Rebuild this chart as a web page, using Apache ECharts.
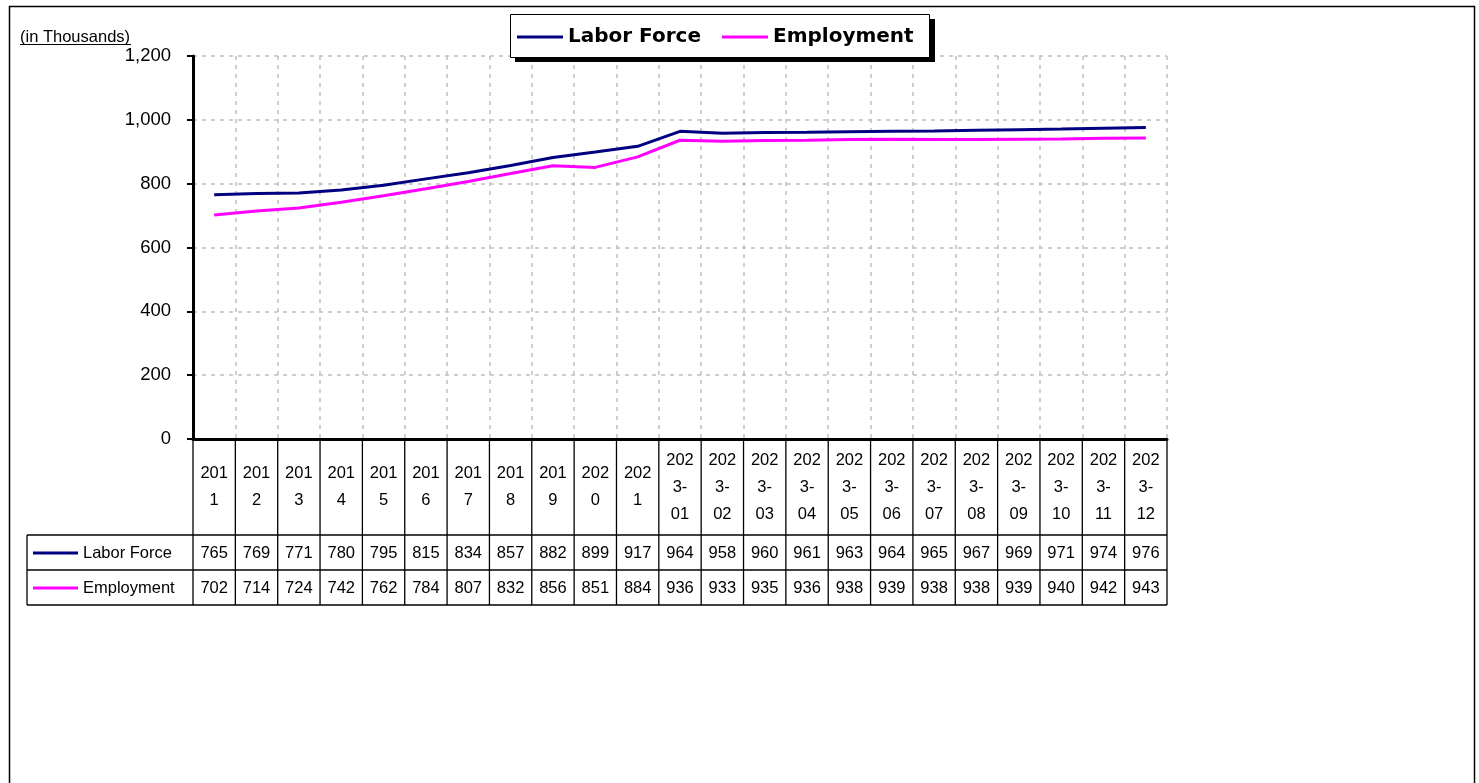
<!DOCTYPE html>
<html>
<head>
<meta charset="utf-8">
<script src="https://cdn.jsdelivr.net/npm/echarts@6/dist/echarts.min.js"></script>
<style>
  html, body { margin: 0; padding: 0; background: #fff; }
  #main { width: 1479px; height: 783px; }
</style>
</head>
<body>
<div id="main"></div>
<script>
var categories = ['2011', '2012', '2013', '2014', '2015', '2016', '2017', '2018', '2019', '2020', '2021',
  '2023-01', '2023-02', '2023-03', '2023-04', '2023-05', '2023-06', '2023-07', '2023-08', '2023-09',
  '2023-10', '2023-11', '2023-12'];
var laborForce = [765, 769, 771, 780, 795, 815, 834, 857, 882, 899, 917,
  964, 958, 960, 961, 963, 964, 965, 967, 969, 971, 974, 976];
var employment = [702, 714, 724, 742, 762, 784, 807, 832, 856, 851, 884,
  936, 933, 935, 936, 938, 939, 938, 938, 939, 940, 942, 943];
var seriesNames = ['Labor Force', 'Employment'];
var seriesColors = ['#000080', '#FF00FF'];
var yMin = 0, yMax = 1200, yStep = 200;

var FONT = '"Liberation Sans", Arial, sans-serif';

var chartDom = document.getElementById('main');
var myChart = echarts.init(chartDom);

var option = {
  backgroundColor: '#fff',
  animation: false,
  grid: { left: 193, right: 312, top: 56, bottom: 344, containLabel: false },
  legend: {
    left: 517, top: 27,
    padding: 0,
    itemGap: 21,
    itemWidth: 46, itemHeight: 3,
    icon: 'rect',
    z: 6,
    textStyle: { fontFamily: '"DejaVu Sans", sans-serif', fontWeight: 'bold', fontSize: 20, color: '#000' },
    data: seriesNames
  },
  xAxis: {
    type: 'category',
    data: categories,
    boundaryGap: true,
    axisLine: { lineStyle: { color: '#000', width: 3 } },
    axisTick: { show: false },
    axisLabel: { show: false },
    splitLine: { show: true, interval: 0, lineStyle: { color: '#c0c0c0', type: [4, 5], width: 1.5 } }
  },
  yAxis: {
    type: 'value',
    min: yMin, max: yMax, interval: yStep,
    axisLine: { show: true, lineStyle: { color: '#000', width: 3 } },
    axisTick: { show: true, length: 6, lineStyle: { color: '#000', width: 2 } },
    axisLabel: {
      margin: 22, color: '#000', fontFamily: FONT, fontSize: 18.5,
      formatter: function (v) { return v.toLocaleString('en-US'); }
    },
    splitLine: { show: true, lineStyle: { color: '#c0c0c0', type: [4, 5], width: 1.5 } }
  },
  series: [
    { name: seriesNames[0], type: 'line', data: laborForce, symbol: 'none',
      itemStyle: { color: seriesColors[0] }, lineStyle: { color: seriesColors[0], width: 3 } },
    { name: seriesNames[1], type: 'line', data: employment, symbol: 'none',
      itemStyle: { color: seriesColors[1] }, lineStyle: { color: seriesColors[1], width: 3 } }
  ]
};
myChart.setOption(option);

// data table under the plot, columns follow the category axis
function wrapLabel(s) {
  var head = s.slice(0, 3), rest = s.slice(3);
  var k = rest.indexOf('-');
  if (k >= 0) return head + '\n' + rest.slice(0, k + 1) + '\n' + rest.slice(k + 1);
  return head + '\n' + rest;
}

var c0 = myChart.convertToPixel({ xAxisIndex: 0 }, 0);
var c1 = myChart.convertToPixel({ xAxisIndex: 0 }, 1);
var step = c1 - c0;
var axisY = myChart.convertToPixel({ yAxisIndex: 0 }, yMin);
var headBottom = axisY + 96, row1Bottom = headBottom + 35, row2Bottom = row1Bottom + 35;
var tableLeft = 27;
var lineStyle = { stroke: '#000', lineWidth: 1.3 };
var els = [];

function hline(x1, x2, y) {
  els.push({ type: 'line', shape: { x1: x1, y1: y, x2: x2, y2: y }, style: lineStyle, silent: true });
}
function vline(x, y1, y2) {
  els.push({ type: 'line', shape: { x1: x, y1: y1, x2: x, y2: y2 }, style: lineStyle, silent: true });
}
function text(str, x, y, size, align) {
  els.push({ type: 'text', x: x, y: y, silent: true,
    style: { text: str, font: size + 'px ' + FONT, fill: '#000', lineHeight: 27,
      align: align || 'center', verticalAlign: 'middle',
      textAlign: align || 'center', textVerticalAlign: 'middle' } });
}

var rightEdge = c0 - step / 2 + step * categories.length;
hline(tableLeft, rightEdge, headBottom);
hline(tableLeft, rightEdge, row1Bottom);
hline(tableLeft, rightEdge, row2Bottom);
vline(tableLeft, headBottom, row2Bottom);
for (var b = 0; b <= categories.length; b++) {
  vline(c0 - step / 2 + step * b, axisY, row2Bottom);
}
var rows = [laborForce, employment];
var rowMid = [(headBottom + row1Bottom) / 2, (row1Bottom + row2Bottom) / 2];
for (var i = 0; i < categories.length; i++) {
  var cx = myChart.convertToPixel({ xAxisIndex: 0 }, i);
  text(wrapLabel(categories[i]), cx, (axisY + headBottom) / 2, 16.5);
  for (var r = 0; r < rows.length; r++) {
    text(String(rows[r][i]), cx, rowMid[r] + 1, 16.5);
  }
}
for (var r2 = 0; r2 < rows.length; r2++) {
  els.push({ type: 'rect', shape: { x: 33, y: rowMid[r2] - 1, width: 45, height: 3 },
    style: { fill: seriesColors[r2] }, silent: true });
  text(seriesNames[r2], 83, rowMid[r2] + 1, 16.5, 'left');
}

// legend frame with hard shadow
els.push({ type: 'rect', shape: { x: 515, y: 19, width: 420, height: 43 },
  style: { fill: '#000' }, silent: true, z: 4 });
els.push({ type: 'rect', shape: { x: 510.5, y: 14.5, width: 419, height: 43 },
  style: { fill: '#fff', stroke: '#000', lineWidth: 1 }, silent: true, z: 5 });

// unit label and outer frame
text('(in Thousands)', 20, 37, 16.5, 'left');
els.push({ type: 'line', shape: { x1: 20, y1: 44.5, x2: 131, y2: 44.5 },
  style: { stroke: '#000', lineWidth: 1 }, silent: true });
els.push({ type: 'rect', shape: { x: 9.5, y: 6.5, width: 1465, height: 800 },
  style: { fill: null, stroke: '#000', lineWidth: 1.5 }, silent: true, z: -1 });

myChart.setOption({ graphic: { elements: els } });
</script>
</body>
</html>
